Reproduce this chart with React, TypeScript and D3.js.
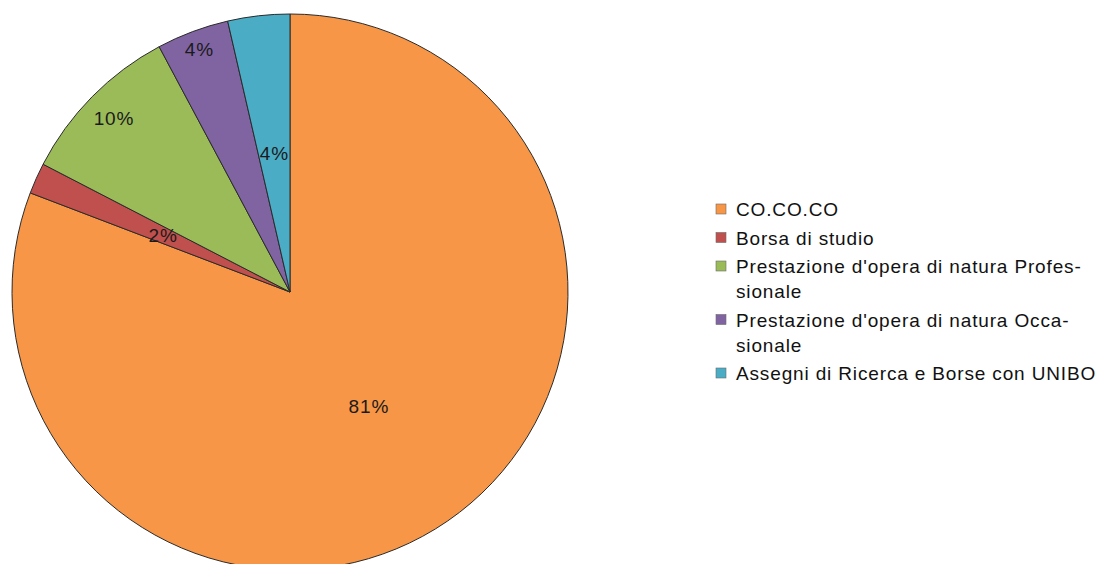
import React from "react";
import * as d3 from "d3";

const categories: string[] = [
  "CO.CO.CO",
  "Borsa di studio",
  "Prestazione d'opera di natura Profes-|sionale",
  "Prestazione d'opera di natura Occa-|sionale",
  "Assegni di Ricerca e Borse con UNIBO",
];
const values: number[] = [80.8, 1.8, 9.6, 4.2, 3.6];
const colors: string[] = ["#F79646", "#C0504D", "#9BBB59", "#8064A2", "#4BACC6"];

// label placement (fraction of radius) per slice
const labelRadiusFrac: number[] = [0.5, 0.5, 0.89, 0.93, 0.5];

const W = 1105;
const H = 564;
const cx = 290;
const cy = 292;
const R = 278;
const FONT = "'Liberation Sans', Arial, sans-serif";
const FS = 19;
const LS = 0.85;

export default function App() {
  const total = d3.sum(values);
  const pie = d3
    .pie<number>()
    .sort(null)
    .value((d) => d)
    .startAngle(0)
    .endAngle(2 * Math.PI);
  const arcs = pie(values);
  const arcGen = d3.arc<d3.PieArcDatum<number>>().innerRadius(0).outerRadius(R);

  const legendX = 716;
  const textX = 736;
  let y = 216;
  const legendItems: { lines: string[]; y: number; color: string }[] = [];
  categories.forEach((c, i) => {
    const lines = c.split("|");
    legendItems.push({ lines, y, color: colors[i] });
    y += (lines.length - 1) * 25 + 28.5;
  });

  return (
    <svg
      width={W}
      height={H}
      style={{ position: "absolute", left: 0, top: 0, background: "#fff" }}
    >
      <rect x={0} y={0} width={W} height={H} fill="#fff" />
      <g transform={`translate(${cx},${cy})`}>
        {arcs.map((a, i) => (
          <path
            key={i}
            d={arcGen(a) || ""}
            fill={colors[i]}
            stroke="#2b2b2b"
            strokeWidth={1}
            strokeLinejoin="round"
          />
        ))}
        {arcs.map((a, i) => {
          const mid = (a.startAngle + a.endAngle) / 2;
          const r = R * labelRadiusFrac[i];
          const x = Math.sin(mid) * r;
          const yy = -Math.cos(mid) * r;
          const pct = Math.round((a.value / total) * 100);
          return (
            <text
              key={i}
              x={x}
              y={yy}
              textAnchor="middle"
              dominantBaseline="central"
              fontFamily={FONT}
              fontSize={FS}
              letterSpacing={LS}
              fill="#1a1a1a"
            >
              {pct}%
            </text>
          );
        })}
      </g>
      <g>
        {legendItems.map((it, i) => (
          <g key={i}>
            <rect
              x={legendX}
              y={it.y - 12}
              width={10}
              height={10}
              fill={it.color}
              stroke="#6b6b6b"
              strokeWidth={0.6}
            />
            {it.lines.map((ln, j) => (
              <text
                key={j}
                x={textX}
                y={it.y + j * 25}
                fontFamily={FONT}
                fontSize={FS}
                letterSpacing={LS}
                fill="#111"
              >
                {ln}
              </text>
            ))}
          </g>
        ))}
      </g>
    </svg>
  );
}
